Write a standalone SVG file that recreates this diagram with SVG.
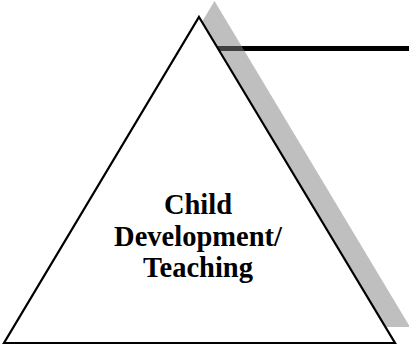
<svg xmlns="http://www.w3.org/2000/svg" width="409" height="349" viewBox="0 0 409 349">
<style>
.lbl{font-family:"Liberation Serif","Times New Roman",serif;font-weight:bold;font-size:28.5px;fill:#000;text-anchor:middle}
</style>
<rect width="409" height="349" fill="#fff"/>
<g id="connectors">
<line x1="210" y1="48.5" x2="409" y2="48.5" stroke="#000" stroke-width="5"/>
</g>
<g id="shadow">
<polygon points="214.5,1 410,327 19,327" fill="#808080" fill-opacity="0.5"/>
</g>
<g id="node-triangle">
<polygon points="199,17 395,343 4,343" fill="#fff" stroke="#000" stroke-width="2.2" stroke-linejoin="miter"/>
<text class="lbl" x="198" y="214">Child</text>
<text class="lbl" x="198" y="245.5">Development/</text>
<text class="lbl" x="198" y="277">Teaching</text>
</g>
</svg>
